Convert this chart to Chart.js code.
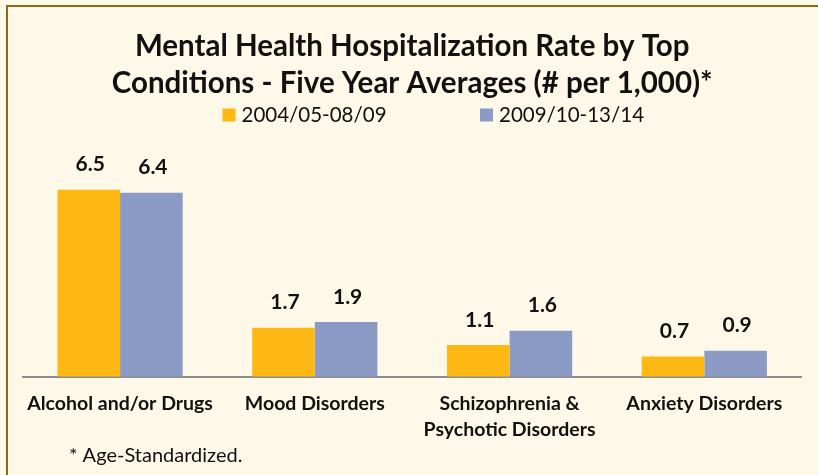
<!DOCTYPE html>
<html>
<head>
<meta charset="utf-8">
<script src="https://cdn.jsdelivr.net/npm/chart.js@4.4.1/dist/chart.umd.min.js"></script>
<style>
  html, body { margin: 0; padding: 0; background: #FEF8E8; }
  #wrap { position: relative; width: 818px; height: 475px; }
  canvas { display: block; }
</style>
</head>
<body>
<div id="wrap"><canvas id="c" width="818" height="475"></canvas></div>
<script>
const titleLines = ["Mental Health Hospitalization Rate by Top", "Conditions - Five Year Averages (# per 1,000)*"];
const categories = [["Alcohol and/or Drugs"], ["Mood Disorders"], ["Schizophrenia &", "Psychotic Disorders"], ["Anxiety Disorders"]];
const seriesNames = ["2004/05-08/09", "2009/10-13/14"];
const series1 = [6.5, 1.7, 1.1, 0.7];
const series2 = [6.4, 1.9, 1.6, 0.9];
const footnote = "* Age-Standardized.";

const FONT = "Lato, 'Open Sans', sans-serif";

const backgroundPlugin = {
  id: 'bgBorder',
  beforeDraw(chart) {
    const ctx = chart.ctx;
    ctx.save();
    ctx.fillStyle = '#FEF8E8';
    ctx.fillRect(0, 0, chart.width, chart.height);
    ctx.fillStyle = '#8C6A12';
    ctx.fillRect(6, 5, chart.width - 6, 2);
    ctx.fillRect(6, 5, 2, chart.height - 5);
    ctx.restore();
  }
};

const legendPlugin = {
  id: 'customLegend',
  afterDraw(chart) {
    const ctx = chart.ctx;
    const starts = [222.5, 480];
    ctx.save();
    ctx.font = "20.5px " + FONT;
    ctx.textBaseline = 'alphabetic';
    ctx.textAlign = 'left';
    chart.data.datasets.forEach((ds, i) => {
      ctx.fillStyle = ds.backgroundColor;
      ctx.fillRect(starts[i], 108.5, 13, 13);
      ctx.fillStyle = '#111';
      ctx.fillText(ds.label, starts[i] + 19, 121.7);
    });
    ctx.restore();
  }
};

const valueLabelPlugin = {
  id: 'valueLabels',
  afterDatasetsDraw(chart) {
    const ctx = chart.ctx;
    ctx.save();
    ctx.font = "bold 21px " + FONT;
    ctx.fillStyle = '#111';
    ctx.textAlign = 'center';
    ctx.textBaseline = 'alphabetic';
    chart.data.datasets.forEach((ds, di) => {
      const meta = chart.getDatasetMeta(di);
      meta.data.forEach((bar, i) => {
        ctx.fillText(ds.data[i].toFixed(1), bar.x + 1.5, bar.y - 18.5);
      });
    });
    ctx.restore();
  }
};

const footnotePlugin = {
  id: 'footnote',
  afterDraw(chart) {
    const ctx = chart.ctx;
    ctx.save();
    ctx.font = "20px " + FONT;
    ctx.fillStyle = '#111';
    ctx.textAlign = 'left';
    ctx.textBaseline = 'alphabetic';
    ctx.fillText(footnote, 69, 461.5);
    ctx.restore();
  }
};

new Chart(document.getElementById('c'), {
  type: 'bar',
  data: {
    labels: categories,
    datasets: [
      { label: seriesNames[0], data: series1, backgroundColor: '#FDB813' },
      { label: seriesNames[1], data: series2, backgroundColor: '#8B9BC5' }
    ]
  },
  options: {
    responsive: false,
    animation: false,
    layout: { padding: { left: 22.7, right: 16.3, top: 0, bottom: 0 } },
    datasets: { bar: { barPercentage: 1.0, categoryPercentage: 0.643 } },
    plugins: {
      legend: { display: false },
      tooltip: { enabled: false },
      title: {
        display: true,
        text: titleLines,
        color: '#111',
        font: { family: FONT, size: 29.5, weight: 'bold', lineHeight: 1.244 },
        padding: { top: 28.5, bottom: 44.8 }
      }
    },
    scales: {
      x: {
        grid: { display: false, drawTicks: false },
        border: { display: true, color: '#8C8C8C', width: 2 },
        ticks: {
          color: '#111',
          font: { family: FONT, size: 19.5, weight: 'bold', lineHeight: 1.33 },
          padding: 14,
          maxRotation: 0,
          autoSkip: false
        },
        afterFit(scale) { scale.height = 98.3; }
      },
      y: {
        display: false,
        min: 0,
        max: 8
      }
    }
  },
  plugins: [backgroundPlugin, legendPlugin, valueLabelPlugin, footnotePlugin]
});
</script>
</body>
</html>
